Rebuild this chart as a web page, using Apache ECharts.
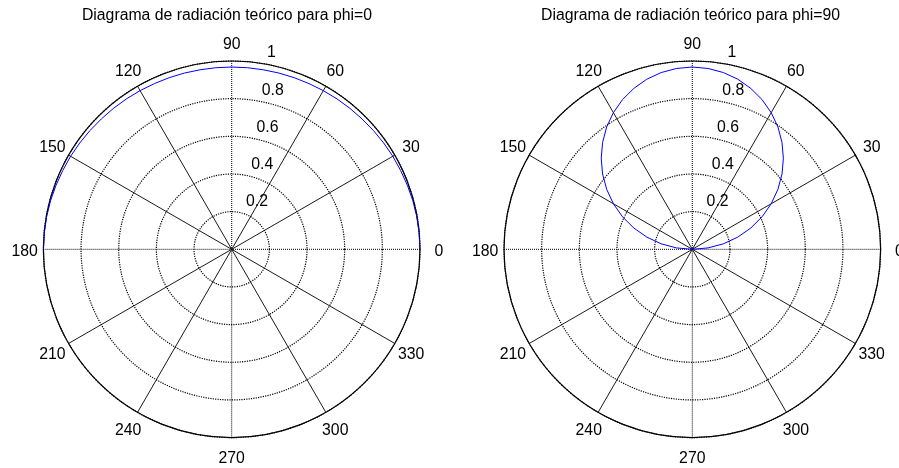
<!DOCTYPE html>
<html>
<head>
<meta charset="utf-8">
<script src="https://cdn.jsdelivr.net/npm/echarts@6/dist/echarts.min.js"></script>
<style>
  html, body { margin: 0; padding: 0; background: #fff; }
  #chart { width: 899px; height: 468px; }
</style>
</head>
<body>
<div id="chart"></div>
<script>
// Elevation angle (degrees) of each sample of the radiation patterns
const thetaDeg = [0, 5, 10, 15, 20, 25, 30, 35, 40, 45, 50, 55, 60, 65, 70, 75, 80, 85, 90,
                  95, 100, 105, 110, 115, 120, 125, 130, 135, 140, 145, 150, 155, 160, 165, 170, 175, 180];

// Normalised field magnitude in the phi = 0 plane
const rPhi0 = [1.000, 0.999, 0.998, 0.996, 0.993, 0.990, 0.988, 0.985, 0.982, 0.979, 0.977, 0.975, 0.973,
               0.971, 0.970, 0.969, 0.968, 0.968, 0.968, 0.968, 0.968, 0.969, 0.970, 0.971, 0.973, 0.975,
               0.977, 0.979, 0.982, 0.985, 0.988, 0.990, 0.993, 0.996, 0.998, 0.999, 1.000];

// Normalised field magnitude in the phi = 90 plane
const rPhi90 = [0.000, 0.084, 0.168, 0.250, 0.331, 0.409, 0.484, 0.555, 0.622, 0.684, 0.741, 0.793, 0.838,
                0.877, 0.909, 0.935, 0.953, 0.964, 0.968, 0.964, 0.953, 0.935, 0.909, 0.877, 0.838, 0.793,
                0.741, 0.684, 0.622, 0.555, 0.484, 0.409, 0.331, 0.250, 0.168, 0.084, 0.000];

// Angular tick marks around the rim
const angleTickValues = [0, 30, 60, 90, 120, 150, 180, 210, 240, 270, 300, 330];
const angleTickLabels = ['0', '30', '60', '90', '120', '150', '180', '210', '240', '270', '300', '330'];

// Radial rings
const radialTickValues = [0.2, 0.4, 0.6, 0.8, 1];
const radialTickLabels = ['0.2', '0.4', '0.6', '0.8', '1'];

const panelTitles = [
  'Diagrama de radiación teórico para phi=0',
  'Diagrama de radiación teórico para phi=90'
];

// ---- styling / placement ----
const FONT = "'Liberation Sans', Arial, Helvetica, sans-serif";
const FONT_SIZE = 15.8;
const RIM_LABEL_RADIUS = 1.1;     // angle labels sit at 1.1 x rmax
const RING_LABEL_ANGLE = 82;      // ring labels run along the 82 degree ray
const RING_LABEL_PAD = 0.01;

const panels = [
  { center: [231.7, 249.3], titleX: 227, curve: rPhi0 },
  { center: [692.3, 249.3], titleX: 690.5, curve: rPhi90 }
];
const RADIUS = 188.3;

const textStyleBase = {
  color: '#000',
  opacity: 1,
  textBorderWidth: 0,
  fontSize: FONT_SIZE,
  fontFamily: FONT
};

const option = {
  backgroundColor: '#fff',
  animation: false,
  title: [],
  polar: [],
  angleAxis: [],
  radiusAxis: [],
  series: []
};

panels.forEach((p, i) => {
  option.title.push({
    text: panelTitles[i],
    left: p.titleX,
    top: 15.2,
    padding: 0,
    textAlign: 'center',
    textVerticalAlign: 'middle',
    textStyle: { fontSize: FONT_SIZE, fontWeight: 'normal', color: '#000', fontFamily: FONT }
  });

  option.polar.push({ center: p.center, radius: RADIUS });

  option.angleAxis.push({
    polarIndex: i,
    type: 'value',
    min: 0,
    max: 360,
    interval: 90,
    startAngle: 0,
    clockwise: false,
    axisLine: { show: true, lineStyle: { color: '#000', width: 1.2 } },
    axisTick: { show: false },
    axisLabel: { show: false },
    minorTick: { show: false, splitNumber: 3 },
    splitLine: { show: true, lineStyle: { color: '#000', width: 1, type: 'dotted' } },
    minorSplitLine: { show: true, lineStyle: { color: '#000', width: 0.9 } }
  });

  option.radiusAxis.push({
    polarIndex: i,
    type: 'value',
    min: 0,
    max: 1,
    interval: 0.2,
    axisLine: { show: false },
    axisTick: { show: false },
    axisLabel: { show: false },
    splitLine: { show: true, lineStyle: { color: '#000', width: 1.2, type: [1.2, 1.2] } }
  });

  // pattern curve
  option.series.push({
    type: 'line',
    coordinateSystem: 'polar',
    polarIndex: i,
    data: thetaDeg.map((t, k) => [p.curve[k], t]),
    showSymbol: false,
    symbol: 'none',
    lineStyle: { color: '#0000ff', width: 1 },
    silent: true,
    z: 5
  });

  // angle labels around the rim
  option.series.push({
    type: 'scatter',
    coordinateSystem: 'polar',
    polarIndex: i,
    clip: false,
    silent: true,
    symbolSize: 1,
    itemStyle: { color: 'rgba(255,255,255,0)' },
    data: angleTickValues.map((a, k) => ({ value: [RIM_LABEL_RADIUS, a], name: angleTickLabels[k] })),
    label: Object.assign({
      show: true,
      position: [0.5, 0.5],
      formatter: '{b}',
      align: 'center',
      verticalAlign: 'middle',
      offset: [0, 2]
    }, textStyleBase),
    z: 6
  });

  // ring value labels
  option.series.push({
    type: 'scatter',
    coordinateSystem: 'polar',
    polarIndex: i,
    clip: false,
    silent: true,
    symbolSize: 1,
    itemStyle: { color: 'rgba(255,255,255,0)' },
    data: radialTickValues.map((v, k) => ({ value: [v + RING_LABEL_PAD, RING_LABEL_ANGLE], name: radialTickLabels[k] })),
    label: Object.assign({
      show: true,
      position: [0.5, 0.5],
      formatter: '{b}',
      align: 'left',
      verticalAlign: 'bottom',
      offset: [8.8, 0]
    }, textStyleBase),
    z: 6
  });
});

const chart = echarts.init(document.getElementById('chart'), null, { renderer: 'canvas' });
chart.setOption(option);
</script>
</body>
</html>
